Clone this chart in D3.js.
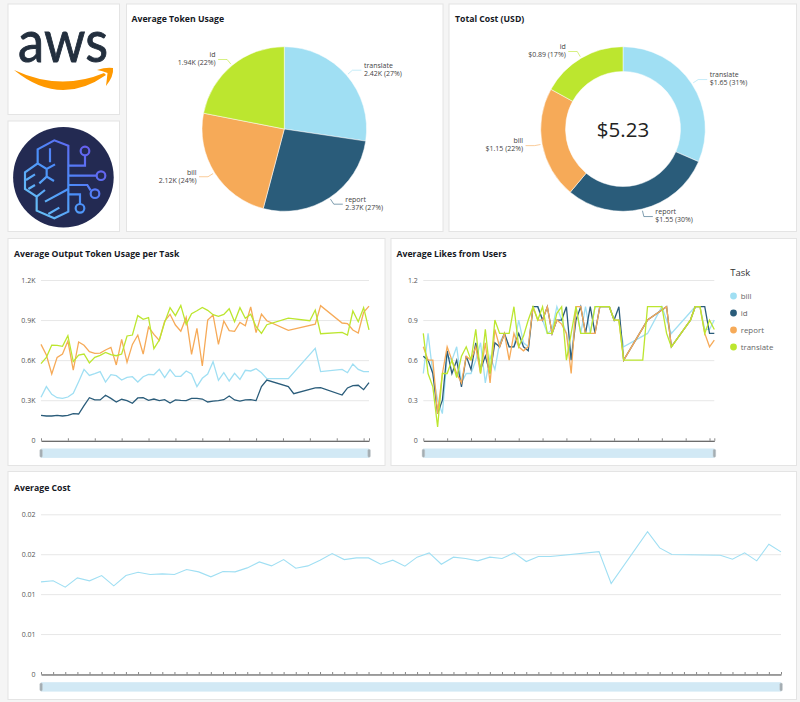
<!DOCTYPE html>
<html>
<head>
<meta charset="utf-8">
<title>Task dashboard</title>
<script src="https://cdn.jsdelivr.net/npm/d3@7"></script>
<style>
    html, body { margin: 0; padding: 0; background: #f5f5f5; }
    svg { display: block; }
    text { font-family: "Open Sans", "Noto Sans", sans-serif; }
    .title { font-size: 8.7px; font-weight: 700; fill: #16191f; }
    .tick text { font-size: 7px; fill: #555; }
    .slice-label { font-size: 7px; fill: #444; }
</style>
</head>
<body>
<svg id="chart" width="800" height="702"></svg>
<script>
var tasks = ['bill', 'id', 'report', 'translate'];
var taskColors = ['#a0dff3', '#2a5c7a', '#f6aa58', '#bce62f'];

// slices go clockwise from twelve o'clock and take the palette in that order
var sliceTasks = ['translate', 'report', 'bill', 'id'];
var tokenUsage = [2.42, 2.37, 2.12, 1.94];
var totalCost = [1.65, 1.55, 1.15, 0.89];
var totalCostLabel = '$5.23';

var tokenTicks = [0, 300, 600, 900, 1200];
var tokenTickLabels = ['0', '0.3K', '0.6K', '0.9K', '1.2K'];
var likeTicks = [0, 0.3, 0.6, 0.9, 1.2];
var likeTickLabels = ['0', '0.3', '0.6', '0.9', '1.2'];
var costTicks = [0, 0.005, 0.01, 0.015, 0.02];
var costTickLabels = ['0', '0.01', '0.01', '0.02', '0.02'];

// 62 days on the x axis, null where a task has no value that day
var _ = null;
var outputBill = [322, 402, 344, 319, 314, 324, 352, 439, 531, 486, 499, 514, 436, 491, 484, 451, 471, 476, 436, 476, 494, 491, 531, 469, 529, 479, 479, 519, 496, 402, 464, 496, 589, 449, 506, 444, 501, 456, 524, 519, 536, 506, 461, _, _, _, 461, _, _, _, _, 688, 514, _, _, _, 531, 506, 571, 531, 514, 514];
var outputId = [187, 182, 182, 187, 182, 187, 200, 197, 259, 319, 302, 302, 337, 314, 287, 307, 297, 277, 317, 319, 299, 309, 297, 304, 279, 302, 299, 297, 314, 314, 309, 287, 294, 297, 304, 332, 302, 294, 302, 304, 297, 402, 451, _, _, _, 402, 349, _, _, _, 392, 394, _, _, _, 339, 392, 409, 412, 379, 431];
var outputReport = [718, 638, 496, 621, 646, 743, 526, 736, 711, 663, 651, 653, 676, 696, 564, 756, 584, 718, 788, 646, 848, 793, 748, 893, 943, 863, 816, 920, 643, 838, 556, 900, 938, 718, 893, 821, 816, 883, 858, 998, 806, 945, 895, _, _, _, 823, _, _, _, _, 870, 1008, _, _, _, 878, 873, 826, 803, 958, 1005];
var outputTranslate = [574, 621, 713, 711, 703, 783, 589, 638, 646, 579, 621, 636, 658, 641, 633, 646, 781, 788, 933, 905, 918, 686, 751, 883, 993, 933, 1010, 868, 948, 970, 995, 973, 940, 928, 943, 985, 888, 993, 913, 943, 850, 801, 865, _, _, _, 915, _, _, _, 895, 975, 798, _, _, _, 808, 788, 968, 888, 993, 826];

var likesBill = [0.5, 0.8, 0.5, 0.3, 0.2, 0.63, 0.6, 0.7, 0.43, 0.5, 0.5, 0.6, 0.73, 0.43, 0.63, 0.53, 0.73, 0.8, 0.7, 0.7, 0.9, 0.73, 0.7, 1, 1, 0.9, 0.8, 0.83, 1, 0.9, 0.8, 0.6, 1, 0.8, 1, 0.8, 1, 1, 1, 1, 0.9, 0.9, 0.7, _, _, _, _, 0.8, _, _, 1, _, 0.8, _, _, _, _, 1, 1, 0.83, 0.83, 0.9];
var likesId = [0.63, 0.6, 0.5, 0.2, 0.3, 0.67, 0.5, 0.6, 0.4, 0.63, 0.53, 0.73, 0.53, 0.63, 0.5, 0.73, 0.7, 0.8, 0.7, 0.7, 0.8, 0.7, 0.67, 1, 1, 0.9, 1, 0.8, 0.9, 0.9, 1, 0.6, 0.9, 1, 0.8, 1, 0.8, 1, 1, 1, 0.9, 1, 0.6, _, _, _, _, 0.9, _, _, _, 1, 0.7, _, _, _, 0.9, 1, 1, 1, 0.8, 0.8];
var likesReport = [0.7, 0.6, 0.6, 0.2, 0.5, 0.7, 0.6, 0.5, 0.43, 0.63, 0.6, 0.7, 0.5, 0.73, 0.43, 0.83, 0.7, 0.8, 0.6, 0.8, 0.7, 0.67, 0.7, 1, 0.9, 0.9, 1, 0.8, 0.9, 0.87, 0.8, 0.5, 1, 1, 0.8, 0.8, 0.8, 1, 1, 1, 0.9, 0.9, 0.6, _, _, _, _, 0.9, _, _, _, 1, 0.7, _, _, _, 0.9, 1, 1, 0.8, 0.7, 0.75];
var likesTranslate = [0.8, 0.5, 0.4, 0.1, 0.5, 0.5, 0.6, 0.47, 0.63, 0.7, 0.6, 0.83, 0.5, 0.83, 0.5, 0.9, 0.8, 0.8, 0.8, 1, 0.7, 0.78, 0.9, 1, 0.9, 1, 0.8, 0.8, 0.95, 1, 0.6, 0.8, 1, 0.8, 0.8, 0.8, 1, 1, 1, 1, 0.9, 0.9, 0.6, _, _, _, 0.6, 1, _, _, 1, 0.8, 0.7, _, _, _, 0.9, 1, 1, 0.8, 0.9, 0.83];

var avgCost = [0.01154, 0.01167, 0.01088, 0.01204, 0.01167, 0.01233, 0.01104, 0.01233, 0.01275, 0.01246, 0.01254, 0.01246, 0.01308, 0.01279, 0.01217, 0.01283, 0.01279, 0.01329, 0.01404, 0.01354, 0.01433, 0.01325, 0.01354, 0.01425, 0.01508, 0.01433, 0.01454, 0.01454, 0.01375, 0.01425, 0.0135, 0.01463, 0.01517, 0.01375, 0.01463, 0.01446, 0.01417, 0.01463, 0.01446, 0.01517, 0.01408, 0.01471, 0.01471, _, _, _, 0.01533, 0.01133, _, _, 0.01783, 0.01579, 0.01496, _, _, _, 0.01488, 0.01438, 0.01517, 0.01417, 0.01625, 0.01529];

var svg = d3.select('#chart');
var color = d3.scaleOrdinal().domain(tasks).range(taskColors);

function panel(x0, y0, x1, y1) {
    svg.append('rect')
        .attr('x', x0 + 0.5).attr('y', y0 + 0.5)
        .attr('width', x1 - x0).attr('height', y1 - y0)
        .attr('fill', '#fff')
        .attr('stroke', '#e4e4e4');
}

function title(x, y, txt) {
    svg.append('text').attr('class', 'title').attr('x', x).attr('y', y).text(txt);
}

function drawAwsLogo() {
    var g = svg.append('g');
    g.append('text')
        .attr('x', 18).attr('y', 61.5)
        .attr('textLength', 90)
        .attr('lengthAdjust', 'spacingAndGlyphs')
        .style('font-family', 'Lato')
        .style('font-size', '59px')
        .style('font-weight', 400)
        .attr('fill', '#232f3e')
        .attr('stroke', '#232f3e')
        .attr('stroke-width', 0.9)
        .text('aws');
    // smile and arrow head
    g.append('path')
        .attr('d', 'M14 70 Q60 107.5 106 75 L104 73 Q60 91.5 14 70 Z M97 70 Q106 67 113 68 Q114 76 106 86 Q107 78 107.5 73 Q103 71 97 70 Z')
        .attr('fill', '#f90');
}

function drawBrainLogo() {
    var defs = svg.append('defs');
    var grad = defs.append('linearGradient')
        .attr('id', 'brainGrad')
        .attr('gradientUnits', 'userSpaceOnUse')
        .attr('x1', 80).attr('y1', 300).attr('x2', 300).attr('y2', 100);
    grad.append('stop').attr('offset', 0).attr('stop-color', '#6fcbf5');
    grad.append('stop').attr('offset', 0.5).attr('stop-color', '#4a8ffa');
    grad.append('stop').attr('offset', 1).attr('stop-color', '#6c55ee');

    svg.append('circle').attr('cx', 63.4).attr('cy', 177.3).attr('r', 50.3).attr('fill', '#232a52');

    var g = svg.append('g')
        .attr('transform', 'translate(0,115) scale(0.3333)')
        .attr('fill', 'none')
        .attr('stroke', 'url(#brainGrad)')
        .attr('stroke-width', 6.5);
    g.append('path').attr('d', 'M205 152V92L163 76L113 103V145L75 172V222L110 245V287L163 310L205 290V222V152');
    g.append('path').attr('d', 'M150 100V142M113 145L140 162L165 148M140 162V185M118 205L140 185L162 198M78 195L105 178M85 222L105 210M110 245L135 225M135 260L205 222M145 297L178 278');
    g.append('path').attr('d', 'M205 152H255V122M205 182H289M205 210H262L272 226M205 238H240V267');
    g.selectAll('circle.node')
        .data([[255, 108], [303, 182], [285, 236], [240, 280]])
        .enter().append('circle')
        .attr('cx', function (d) { return d[0]; })
        .attr('cy', function (d) { return d[1]; })
        .attr('r', 13);
}

function drawPie(cx, cy, values, innerRadius, fmt) {
    var radius = 82.3;
    var total = d3.sum(values);
    var rows = values.map(function (v, i) {
        return { task: sliceTasks[i], value: v, fill: taskColors[i] };
    });
    var arcs = d3.pie().sort(null).value(function (d) { return d.value; })(rows);
    var arc = d3.arc().innerRadius(innerRadius).outerRadius(radius);
    var g = svg.append('g').attr('transform', 'translate(' + cx + ',' + cy + ')');

    g.selectAll('path.slice')
        .data(arcs)
        .enter().append('path')
        .attr('class', 'slice')
        .attr('d', arc)
        .attr('fill', function (d) { return d.data.fill; })
        .attr('stroke', '#fff')
        .attr('stroke-width', 0.5);

    arcs.forEach(function (d) {
        var mid = (d.startAngle + d.endAngle) / 2;
        var sx = Math.sin(mid), sy = -Math.cos(mid);
        var side = sx >= 0 ? 1 : -1;
        var ex = sx * 90, ey = sy * 90;
        g.append('polyline')
            .attr('points', [[sx * 84, sy * 84], [ex, ey], [ex + side * 9, ey]].join(' '))
            .attr('fill', 'none')
            .attr('stroke', d.data.fill)
            .attr('stroke-opacity', 0.75)
            .attr('stroke-width', 0.8);
        var t = g.append('text')
            .attr('class', 'slice-label')
            .attr('text-anchor', side > 0 ? 'start' : 'end');
        t.append('tspan')
            .attr('x', ex + side * 11.5).attr('y', ey - 2.2)
            .text(d.data.task);
        t.append('tspan')
            .attr('x', ex + side * 11.5).attr('y', ey + 5.8)
            .text(fmt(d.data.value) + ' (' + Math.round(d.data.value / total * 100) + '%)');
    });
}

function drawLines(opts) {
    var x = d3.scaleLinear().domain([0, 61]).range([opts.left, opts.right]);
    var y = d3.scaleLinear().domain(opts.domain).range([opts.bottom, opts.top]);

    // gridlines and value labels
    var yAxis = d3.axisLeft(y)
        .tickValues(opts.ticks)
        .tickSize(-(opts.right - opts.left))
        .tickPadding(5.5)
        .tickFormat(function (d, i) { return opts.tickLabels[i]; });
    var gy = svg.append('g')
        .attr('transform', 'translate(' + opts.left + ',0)')
        .call(yAxis);
    gy.select('.domain').remove();
    gy.selectAll('.tick line').attr('stroke', '#e7e7e7');

    // bottom axis with short ticks pointing up, no labels
    var xAxis = d3.axisBottom(x)
        .tickValues(opts.xTicks)
        .tickSizeInner(-2.5)
        .tickSizeOuter(0)
        .tickFormat('');
    var gx = svg.append('g')
        .attr('transform', 'translate(0,' + (opts.bottom + 0.5) + ')')
        .call(xAxis);
    gx.select('.domain').attr('stroke', '#4a4a4a');
    gx.selectAll('.tick line').attr('stroke', '#888');

    var line = d3.line()
        .x(function (d) { return x(d.i); })
        .y(function (d) { return y(d.v); });

    opts.series.forEach(function (s) {
        var pts = [];
        s.values.forEach(function (v, i) {
            if (v !== null) pts.push({ i: i, v: v });
        });
        svg.append('path')
            .datum(pts)
            .attr('d', line)
            .attr('fill', 'none')
            .attr('stroke', color(s.task))
            .attr('stroke-width', opts.lineWidth || 1.3)
            .attr('stroke-linejoin', 'miter');
    });

    // range slider under the plot
    svg.append('rect')
        .attr('x', opts.left).attr('y', opts.bottom + 8.2)
        .attr('width', opts.right - opts.left).attr('height', 9.4)
        .attr('fill', '#d2e9f5');
    [opts.left, opts.right].forEach(function (hx) {
        svg.append('rect')
            .attr('x', hx - 1.2).attr('y', opts.bottom + 9)
            .attr('width', 2.6).attr('height', 8)
            .attr('rx', 1.2)
            .attr('fill', '#a4adb2')
            .attr('stroke', '#c4ccd0')
            .attr('stroke-width', 0.4);
    });
}

function drawLegend() {
    svg.append('text')
        .attr('x', 730.3).attr('y', 276)
        .style('font-size', '9.5px')
        .attr('fill', '#333')
        .text('Task');
    var rows = svg.selectAll('g.legend-row')
        .data(tasks)
        .enter().append('g')
        .attr('class', 'legend-row')
        .attr('transform', function (d, i) { return 'translate(733.5,' + (296 + i * 17) + ')'; });
    rows.append('circle')
        .attr('r', 3.4)
        .attr('fill', function (d) { return color(d); });
    rows.append('text')
        .attr('x', 7.2).attr('y', 3)
        .style('font-size', '7.9px')
        .attr('fill', '#666')
        .text(function (d) { return d; });
}

// every fifth day is ticked, plus the last one
var sparseTicks = d3.range(0, 62, 5).concat([61]);

panel(7.5, 3.5, 119, 114);
panel(7.5, 120.5, 119, 231);
panel(126, 3.5, 442.5, 231);
panel(448.5, 3.5, 796, 231);
panel(7.5, 238, 384.5, 465);
panel(390.5, 238, 796, 465);
panel(7.5, 471, 796, 699);

drawAwsLogo();
drawBrainLogo();

title(131.5, 22, 'Average Token Usage');
drawPie(284.3, 129, tokenUsage, 0, function (v) { return v.toFixed(2) + 'K'; });

title(455, 22, 'Total Cost (USD)');
drawPie(623, 129, totalCost, 57.5, function (v) { return '$' + v.toFixed(2); });
svg.append('text')
    .attr('x', 623).attr('y', 136.5)
    .attr('text-anchor', 'middle')
    .style('font-size', '20.5px')
    .attr('fill', '#222')
    .text(totalCostLabel);

title(14, 257, 'Average Output Token Usage per Task');
drawLines({
    left: 41, right: 369, top: 280, bottom: 440.3,
    domain: [0, 1200], ticks: tokenTicks, tickLabels: tokenTickLabels, xTicks: sparseTicks,
    series: [
        { task: 'bill', values: outputBill },
        { task: 'id', values: outputId },
        { task: 'report', values: outputReport },
        { task: 'translate', values: outputTranslate }
    ]
});

title(396.5, 257, 'Average Likes from Users');
drawLines({
    left: 423.3, right: 714.3, top: 280, bottom: 440.3,
    domain: [0, 1.2], ticks: likeTicks, tickLabels: likeTickLabels, xTicks: sparseTicks,
    series: [
        { task: 'bill', values: likesBill },
        { task: 'id', values: likesId },
        { task: 'report', values: likesReport },
        { task: 'translate', values: likesTranslate }
    ]
});
drawLegend();

title(14, 491, 'Average Cost');
drawLines({
    left: 41, right: 781, top: 514.3, bottom: 674,
    domain: [0, 0.02], ticks: costTicks, tickLabels: costTickLabels, xTicks: d3.range(0, 62),
    lineWidth: 1.1,
    series: [{ task: 'bill', values: avgCost }]
});
</script>
</body>
</html>
